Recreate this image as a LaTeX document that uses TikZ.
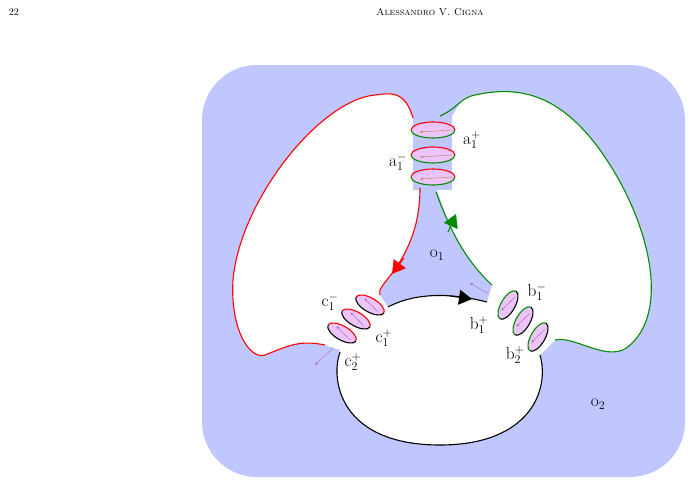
\documentclass[tikz,border=0pt]{standalone}
\usepackage{tikz}
\usetikzlibrary{arrows.meta,positioning,calc}
\definecolor{regblue}{RGB}{192,199,255}
\definecolor{lensp}{RGB}{236,196,250}
\definecolor{cgreen}{RGB}{0,140,0}
\begin{document}
\begin{tikzpicture}[x=1pt,y=-1pt,
    redline/.style={red, line width=1.1pt},
    greenline/.style={cgreen, line width=1.1pt},
    blackline/.style={black, line width=1.1pt},
    lens/.style={fill=lensp, draw=none},
    tip/.style={-{Triangle[length=13pt,width=15pt]}, line width=1pt},
    vec/.style={-{Stealth[length=3pt]}, violet!60, thin},
    lab/.style={font=\LARGE}
]
\useasboundingbox (0,0) rectangle (693,485);

% header
\node[font=\normalsize] (page) at (14,12) {22};
\node[font=\normalsize] (head) at (430,12) {\textsc{Alessandro V. Cigna}};

% outer region o2
\fill[regblue, rounded corners=55pt] (202,65) rectangle (685,477);

% white surface
\fill[white] (413,118) .. controls (405,90) and (390,93) .. (375,95)
  .. controls (320,100) and (240,200) .. (233,280)
  .. controls (230,330) and (250,360) .. (265,355)
  .. controls (290,345) and (300,340) .. (325,345) -- (340,350)
  .. controls (330,380) and (340,445) .. (440,445)
  .. controls (530,445) and (550,390) .. (540,355) -- (555,340)
  .. controls (575,335) and (610,365) .. (630,345)
  .. controls (670,310) and (650,220) .. (600,150)
  .. controls (560,95) and (520,85) .. (475,95)
  .. controls (460,98) and (458,108) .. (452,116) -- cycle;
\fill[regblue] (413,190) rectangle (452,100);

% inner region o1
\fill[regblue] (420,188) .. controls (420,230) and (405,255) .. (393,272)
  .. controls (383,285) and (378,290) .. (380,295) -- (388,307)
  .. controls (420,290) and (460,295) .. (487,302) -- (492,285)
  .. controls (465,260) and (450,230) .. (437,190) -- cycle;

% boundary curves
\draw[redline] (413,118) .. controls (405,90) and (390,93) .. (375,95)
  .. controls (320,100) and (240,200) .. (233,280)
  .. controls (230,330) and (250,360) .. (265,355)
  .. controls (290,345) and (300,340) .. (325,345);
\draw[greenline] (555,340) .. controls (575,335) and (610,365) .. (630,345)
  .. controls (670,310) and (650,220) .. (600,150)
  .. controls (560,95) and (520,85) .. (475,95)
  .. controls (460,98) and (458,108) .. (440,116);
\draw[blackline] (340,352) .. controls (330,380) and (340,445) .. (440,445)
  .. controls (530,445) and (550,390) .. (540,355);
\draw[redline] (420,188) .. controls (420,230) and (405,255) .. (393,272)
  .. controls (383,285) and (378,290) .. (380,295);
\draw[greenline] (492,285) .. controls (465,260) and (450,230) .. (436,192);
\draw[blackline] (388,307) .. controls (420,290) and (460,295) .. (487,302);

% arrows on the curves
\draw[tip, red] (404,258) -- (392,274);
\draw[tip, cgreen] (448,232) -- (456,214);
\draw[tip, black] (450,296) -- (472,299);

% top band
\foreach \yy in {130,155,177}{
  \fill[lens] (433,\yy) ellipse (22pt and 8pt);
  \draw[redline] (411,\yy) arc[start angle=180, end angle=360, x radius=22pt, y radius=-8pt];
  \draw[greenline] (411,\yy) arc[start angle=180, end angle=0, x radius=22pt, y radius=-8pt];
  \draw[vec, brown] (452,\yy) -- (420,\yy+2);
}

% left band
\foreach \t in {0,1,2}{
  \begin{scope}[shift={($(370,305)+\t*(-14,14)$)}, rotate=-30]
    \fill[lens] (0,0) ellipse (16pt and 7pt);
    \draw[redline] (-16,0) arc[start angle=180, end angle=360, x radius=16pt, y radius=-7pt];
    \draw[blackline] (-16,0) arc[start angle=180, end angle=0, x radius=16pt, y radius=-7pt];
    \draw[vec] (10,2) -- (-8,-3);
  \end{scope}
}
\draw[vec] (333,348) -- (315,365);

% right band
\foreach \t in {0,1,2}{
  \begin{scope}[shift={($(508,305)+\t*(15,16)$)}, rotate=60]
    \fill[lens] (0,0) ellipse (16pt and 7pt);
    \draw[greenline] (-16,0) arc[start angle=180, end angle=360, x radius=16pt, y radius=-7pt];
    \draw[blackline] (-16,0) arc[start angle=180, end angle=0, x radius=16pt, y radius=-7pt];
    \draw[vec] (10,2) -- (-8,-3);
  \end{scope}
}
\draw[vec] (487,293) -- (470,283);

% labels
\node[lab] (a1p) at (472,140) {a$_1^+$};
\node[lab] (a1m) at (398,162) {a$_1^-$};
\node[lab] (b1m) at (537,292) {b$_1^-$};
\node[lab] (b1p) at (479,325) {b$_1^+$};
\node[lab] (b2p) at (515,355) {b$_2^+$};
\node[lab] (c1m) at (330,302) {c$_1^-$};
\node[lab] (c1p) at (384,338) {c$_1^+$};
\node[lab] (c2p) at (353,362) {c$_2^+$};
\node[lab] (o1) at (437,255) {o$_1$};
\node[lab] (o2) at (598,404) {o$_2$};
\end{tikzpicture}
\end{document}
